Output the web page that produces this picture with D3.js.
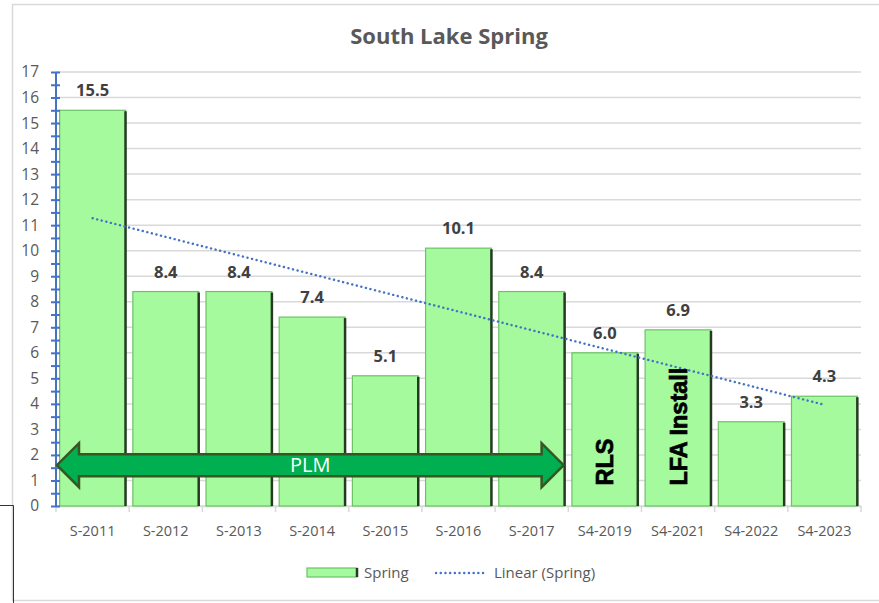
<!DOCTYPE html>
<html>
<head>
<meta charset="utf-8">
<script src="https://cdn.jsdelivr.net/npm/d3@7"></script>
<style>
  body { margin: 0; background: #fff; }
  svg { display: block; font-family: 'Open Sans', sans-serif; }
</style>
</head>
<body>
<div class="canvas"></div>
<script>
// data
const categories = ['S-2011', 'S-2012', 'S-2013', 'S-2014', 'S-2015', 'S-2016', 'S-2017', 'S4-2019', 'S4-2021', 'S4-2022', 'S4-2023'];
const springValues = [15.5, 8.4, 8.4, 7.4, 5.1, 10.1, 8.4, 6.0, 6.9, 3.3, 4.3];
const yTicks = d3.range(0, 18);
const yMinorTicks = d3.range(0, 17.5, 0.5);

const width = 879, height = 603;
const margin = {top: 72, right: 18, bottom: 97, left: 56};

const svg = d3.select('.canvas').append('svg')
    .attr('width', width)
    .attr('height', height);

// chart frame
svg.append('rect')
    .attr('x', 12.5).attr('y', 4.5)
    .attr('width', 900).attr('height', 596)
    .attr('fill', 'none')
    .attr('stroke', '#d9d9d9')
    .attr('stroke-width', 1.5);

// stray box line bottom-left
svg.append('path')
    .attr('d', 'M0,505.5 H13.5 V603')
    .attr('fill', 'none')
    .attr('stroke', '#333')
    .attr('stroke-width', 1);

// scales
const x = d3.scaleBand()
    .domain(categories)
    .range([margin.left, width - margin.right])
    .paddingInner(0.1)
    .paddingOuter(0.05);
const y = d3.scaleLinear()
    .domain([0, 17])
    .range([height - margin.bottom, margin.top]);

// gridlines
svg.append('g')
  .selectAll('line')
  .data(yTicks)
  .join('line')
    .attr('x1', margin.left).attr('x2', width - margin.right)
    .attr('y1', d => y(d)).attr('y2', d => y(d))
    .attr('stroke', '#d9d9d9')
    .attr('stroke-width', 1.5);

// title
svg.append('text')
    .attr('x', 449).attr('y', 44)
    .attr('text-anchor', 'middle')
    .attr('font-size', 22)
    .attr('font-weight', 'bold')
    .attr('fill', '#595959')
    .text('South Lake Spring');

// x axis
const xAxis = svg.append('g')
    .attr('transform', `translate(0, ${y(0)})`)
    .call(d3.axisBottom(x).tickSize(0).tickPadding(20));
xAxis.select('.domain').attr('stroke', '#d9d9d9').attr('stroke-width', 1.5);
xAxis.selectAll('text').attr('font-size', 14.5).attr('fill', '#595959').attr('font-family', 'Open Sans');
xAxis.selectAll('.bound')
  .data(d3.range(categories.length + 1))
  .join('line')
    .attr('class', 'bound')
    .attr('x1', i => margin.left + i * x.step())
    .attr('x2', i => margin.left + i * x.step())
    .attr('y1', 0).attr('y2', 6)
    .attr('stroke', '#d9d9d9')
    .attr('stroke-width', 1.5);

// bars
const bars = svg.append('g');
const barData = categories.map((c, i) => ({cat: c, value: springValues[i]}));
bars.selectAll('rect')
  .data(barData)
  .join('rect')
    .attr('x', d => x(d.cat))
    .attr('y', d => y(d.value))
    .attr('width', x.bandwidth())
    .attr('height', d => y(0) - y(d.value))
    .attr('fill', '#a5fa9d')
    .attr('stroke', '#6cc266')
    .attr('stroke-width', 1.2);
bars.selectAll('.edge')
  .data(barData)
  .join('line')
    .attr('class', 'edge')
    .attr('x1', d => x(d.cat) + x.bandwidth())
    .attr('x2', d => x(d.cat) + x.bandwidth())
    .attr('y1', d => y(d.value) + 1)
    .attr('y2', y(0))
    .attr('stroke', '#243b22')
    .attr('stroke-width', 2.5);

// y axis labels
const yAxis = svg.append('g')
    .attr('transform', `translate(${margin.left}, 0)`)
    .call(d3.axisLeft(y).tickValues(yTicks).tickSize(0).tickPadding(17));
yAxis.select('.domain').remove();
yAxis.selectAll('text').attr('font-size', 15.5).attr('fill', '#595959').attr('font-family', 'Open Sans');

// y axis line with crossing ticks
const yTickAxis = svg.append('g')
    .attr('transform', `translate(${margin.left + 4}, 0)`)
    .call(d3.axisLeft(y).tickValues(yMinorTicks).tickSize(9).tickFormat(''));
yTickAxis.select('.domain').remove();
yTickAxis.selectAll('line').attr('stroke', '#4472c4').attr('stroke-width', 2);
svg.append('line')
    .attr('x1', margin.left).attr('x2', margin.left)
    .attr('y1', y(0)).attr('y2', y(17))
    .attr('stroke', '#4472c4')
    .attr('stroke-width', 2);

// data labels
svg.append('g')
  .selectAll('text')
  .data(barData)
  .join('text')
    .attr('x', d => x(d.cat) + x.bandwidth() / 2)
    .attr('y', d => y(d.value) - 14)
    .attr('text-anchor', 'middle')
    .attr('font-size', 16.5)
    .attr('font-weight', 'bold')
    .attr('fill', '#404040')
    .text(d => d.value.toFixed(1));

// linear trendline (least squares on the bar values)
const xs = springValues.map((v, i) => i + 1);
const xMean = d3.mean(xs), yMean = d3.mean(springValues);
const slope = d3.sum(xs, (xi, i) => (xi - xMean) * (springValues[i] - yMean)) / d3.sum(xs, xi => (xi - xMean) ** 2);
const intercept = yMean - slope * xMean;
const trend = [categories[0], categories[categories.length - 1]].map(c => {
  const i = categories.indexOf(c) + 1;
  return {cat: c, value: intercept + slope * i};
});
const line = d3.line()
    .x(d => x(d.cat) + x.bandwidth() / 2)
    .y(d => y(d.value));
svg.append('path')
    .datum(trend)
    .attr('d', line)
    .attr('fill', 'none')
    .attr('stroke', '#4472c4')
    .attr('stroke-width', 2.4)
    .attr('stroke-linecap', 'round')
    .attr('stroke-dasharray', '0.1 4.6');

// PLM double arrow
const ax0 = x.range()[0] + 1;
const ax1 = x('S-2017') + x.bandwidth() - 1;
const ay = y(1.6);
const headL = 22, headH = 22, shaftH = 11;
const arrowPts = [
  [ax0, ay],
  [ax0 + headL, ay - headH],
  [ax0 + headL, ay - shaftH],
  [ax1 - headL, ay - shaftH],
  [ax1 - headL, ay - headH],
  [ax1, ay],
  [ax1 - headL, ay + headH],
  [ax1 - headL, ay + shaftH],
  [ax0 + headL, ay + shaftH],
  [ax0 + headL, ay + headH]
];
svg.append('path')
    .attr('d', d3.line()(arrowPts) + 'Z')
    .attr('fill', '#00b050')
    .attr('stroke', '#375623')
    .attr('stroke-width', 2.5)
    .attr('stroke-linejoin', 'miter');
svg.append('text')
    .attr('x', (ax0 + ax1) / 2)
    .attr('y', ay)
    .attr('dy', '0.35em')
    .attr('text-anchor', 'middle')
    .attr('font-size', 20)
    .attr('fill', '#fff')
    .text('PLM');

// rotated bar notes
const notes = [{cat: 'S4-2019', text: 'RLS'}, {cat: 'S4-2021', text: 'LFA Install'}];
svg.append('g')
  .selectAll('text')
  .data(notes)
  .join('text')
    .attr('transform', d => `translate(${x(d.cat) + x.bandwidth() / 2}, ${y(0.8)}) rotate(-90)`)
    .attr('dy', '0.36em')
    .attr('font-family', 'Liberation Sans, Arial, sans-serif')
    .attr('font-weight', 'bold')
    .attr('font-size', 23.5)
    .attr('fill', '#000')
    .attr('stroke', '#000')
    .attr('stroke-width', 0.7)
    .text(d => d.text);

// legend
const legend = svg.append('g');
legend.append('rect')
    .attr('x', 307).attr('y', 568)
    .attr('width', 50).attr('height', 9)
    .attr('fill', '#a5fa9d')
    .attr('stroke', '#6cc266')
    .attr('stroke-width', 1.2);
legend.append('line')
    .attr('x1', 357).attr('x2', 357)
    .attr('y1', 568).attr('y2', 577)
    .attr('stroke', '#243b22')
    .attr('stroke-width', 2.5);
legend.append('text')
    .attr('x', 364).attr('y', 578)
    .attr('font-size', 15).attr('fill', '#595959')
    .text('Spring');
legend.append('line')
    .attr('x1', 436).attr('x2', 484)
    .attr('y1', 573).attr('y2', 573)
    .attr('stroke', '#4472c4')
    .attr('stroke-width', 2.4)
    .attr('stroke-linecap', 'round')
    .attr('stroke-dasharray', '0.1 4.6');
legend.append('text')
    .attr('x', 494).attr('y', 578)
    .attr('font-size', 15).attr('fill', '#595959')
    .text('Linear (Spring)');
</script>
</body>
</html>
